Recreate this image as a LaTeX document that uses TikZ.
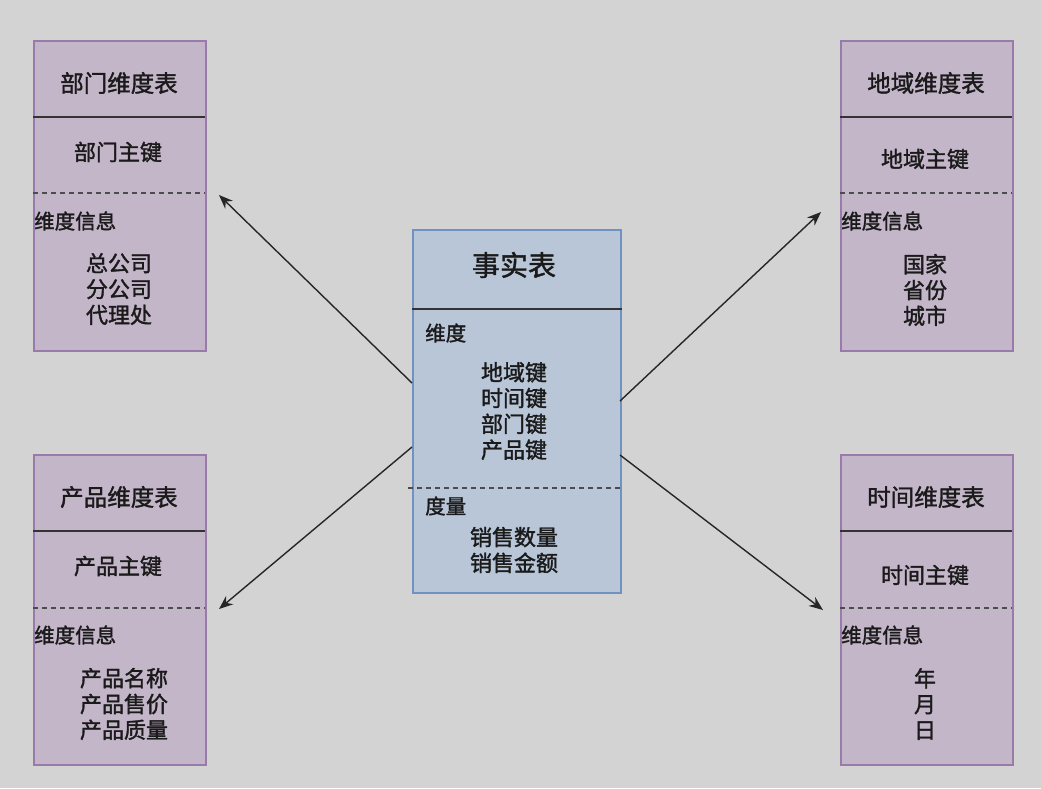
\documentclass[tikz,border=0pt]{standalone}
\usepackage{fontspec}
\setmainfont{Noto Sans CJK SC}[FakeBold=1.5]
\usetikzlibrary{arrows.meta}
\definecolor{bgc}{HTML}{D3D3D3}
\definecolor{dimfill}{HTML}{C4B6C9}
\definecolor{dimdraw}{HTML}{9A7AAA}
\definecolor{factfill}{HTML}{B9C6D8}
\definecolor{factdraw}{HTML}{7092C0}
\definecolor{txt}{HTML}{1A1A1A}
\begin{document}
\begin{tikzpicture}[x=1pt,y=-1pt,
  dimbox/.style={draw=dimdraw,fill=dimfill,line width=1.8pt,minimum width=172pt,minimum height=310pt,anchor=north west,inner sep=0pt},
  factbox/.style={draw=factdraw,fill=factfill,line width=1.6pt,minimum width=208pt,minimum height=363pt,anchor=north west,inner sep=0pt},
  sepline/.style={draw=black!80,line width=1.6pt},
  dashline/.style={draw=black!70,line width=1.6pt,dash pattern=on 5pt off 4pt},
  title/.style={text=txt,font=\fontsize{23.5}{26}\selectfont,inner sep=0pt},
  key/.style={text=txt,font=\fontsize{22}{26}\selectfont,inner sep=0pt},
  bigtitle/.style={text=txt,font=\fontsize{28}{30}\selectfont,inner sep=0pt},
  lbl/.style={text=txt,font=\fontsize{20.5}{24}\selectfont,inner sep=0pt,anchor=west},
  items/.style={text=txt,font=\fontsize{22}{25.8}\selectfont,inner sep=0pt,align=center},
  conn/.style={draw=black!85,line width=1.4pt,-{Stealth[length=14pt,width=11pt]}}
]
\fill[bgc] (0,0) rectangle (1041,788);
\useasboundingbox (0,0) rectangle (1041,788);

% department dimension (top left)
\node[dimbox] (dept) at (33,40) {};
\draw[sepline] (33,117) -- (205,117);
\draw[dashline] (33,193) -- (205,193);
\node[title] (deptT) at (119,83) {部门维度表};
\node[key] (deptK) at (118,152) {部门主键};
\node[lbl] (deptL) at (34,221) {维度信息};
\node[items] (deptI) at (119,289) {总公司\\分公司\\代理处};

% product dimension (bottom left)
\node[dimbox] (prod) at (33,454) {};
\draw[sepline] (33,531) -- (205,531);
\draw[dashline] (33,608) -- (205,608);
\node[title] (prodT) at (119,497) {产品维度表};
\node[key] (prodK) at (118,566) {产品主键};
\node[lbl] (prodL) at (34,635) {维度信息};
\node[items] (prodI) at (124,704) {产品名称\\产品售价\\产品质量};

% region dimension (top right)
\node[dimbox] (reg) at (840,40) {};
\draw[sepline] (840,117) -- (1012,117);
\draw[dashline] (840,193) -- (1012,193);
\node[title] (regT) at (926,83) {地域维度表};
\node[key] (regK) at (925,159) {地域主键};
\node[lbl] (regL) at (841,221) {维度信息};
\node[items] (regI) at (925,290) {国家\\省份\\城市};

% time dimension (bottom right)
\node[dimbox] (time) at (840,454) {};
\draw[sepline] (840,531) -- (1012,531);
\draw[dashline] (840,608) -- (1012,608);
\node[title] (timeT) at (926,497) {时间维度表};
\node[key] (timeK) at (925,575) {时间主键};
\node[lbl] (timeL) at (841,635) {维度信息};
\node[items] (timeI) at (925,704) {年\\月\\日};

% fact table (centre)
\node[factbox] (fact) at (412,229) {};
\draw[sepline] (412,309) -- (622,309);
\draw[dashline] (408,488) -- (620,488);
\node[bigtitle] (factT) at (514,265) {事实表};
\node[lbl] (factL1) at (425,333) {维度};
\node[items] (factI1) at (514,411) {地域键\\时间键\\部门键\\产品键};
\node[lbl] (factL2) at (425,506) {度量};
\node[items] (factI2) at (514,550) {销售数量\\销售金额};

% connector end points
\coordinate (s1) at (412,383);
\coordinate (e1) at (219,195);
\coordinate (s2) at (620,401);
\coordinate (e2) at (821,212);
\coordinate (s3) at (412,447);
\coordinate (e3) at (219,609);
\coordinate (s4) at (620,455);
\coordinate (e4) at (823,610);
\draw[conn] (s1) -- (e1);
\draw[conn] (s2) -- (e2);
\draw[conn] (s3) -- (e3);
\draw[conn] (s4) -- (e4);
\end{tikzpicture}
\end{document}
